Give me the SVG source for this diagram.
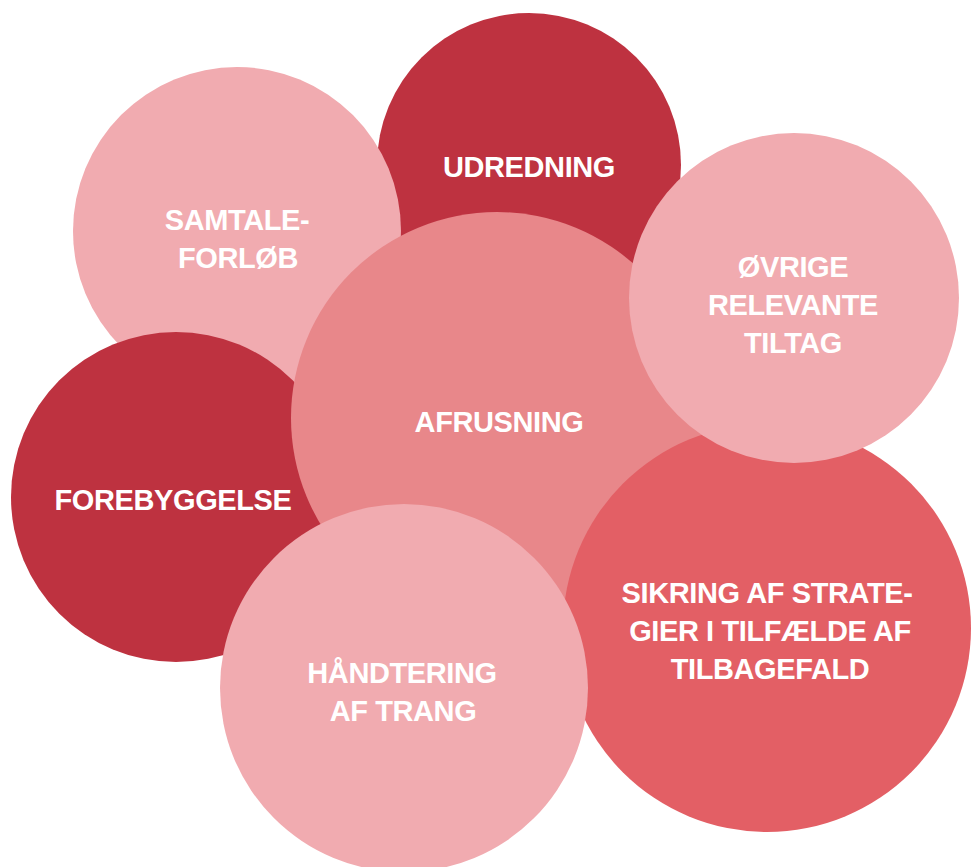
<svg xmlns="http://www.w3.org/2000/svg" width="971" height="867" viewBox="0 0 971 867">
<style>
.dark{fill:#be3240}
.light{fill:#f1abb0}
.mid{fill:#e8878a}
.salmon{fill:#e35f65}
.lbl{font-family:"Liberation Sans",Arial,sans-serif;font-weight:bold;font-size:29px;fill:#ffffff;text-anchor:middle;letter-spacing:-0.4px}
</style>
<rect width="971" height="867" fill="#ffffff"/>
<g id="udredning">
<circle class="dark" cx="529" cy="165" r="152"/>
<text class="lbl" x="529" y="177">UDREDNING</text>
</g>
<g id="samtaleforloeb">
<circle class="light" cx="237" cy="231" r="164"/>
<text class="lbl" x="237" y="230">SAMTALE-</text>
<text class="lbl" x="238" y="268">FORLØB</text>
</g>
<g id="forebyggelse">
<circle class="dark" cx="176" cy="497" r="165"/>
<text class="lbl" x="173" y="510">FOREBYGGELSE</text>
</g>
<g id="afrusning">
<circle class="mid" cx="497" cy="418" r="206"/>
<text class="lbl" x="499" y="432">AFRUSNING</text>
</g>
<g id="sikring">
<circle class="salmon" cx="767" cy="628" r="204"/>
<text class="lbl" x="767" y="603">SIKRING AF STRATE-</text>
<text class="lbl" x="770" y="641">GIER I TILFÆLDE AF</text>
<text class="lbl" x="770" y="679">TILBAGEFALD</text>
</g>
<g id="oevrige">
<circle class="light" cx="794" cy="298" r="165"/>
<text class="lbl" x="793" y="277">ØVRIGE</text>
<text class="lbl" x="793" y="315">RELEVANTE</text>
<text class="lbl" x="793" y="353">TILTAG</text>
</g>
<g id="haandtering">
<circle class="light" cx="404" cy="688" r="184"/>
<text class="lbl" x="402" y="683">HÅNDTERING</text>
<text class="lbl" x="403" y="721">AF TRANG</text>
</g>
<g id="connectors"></g>
</svg>
